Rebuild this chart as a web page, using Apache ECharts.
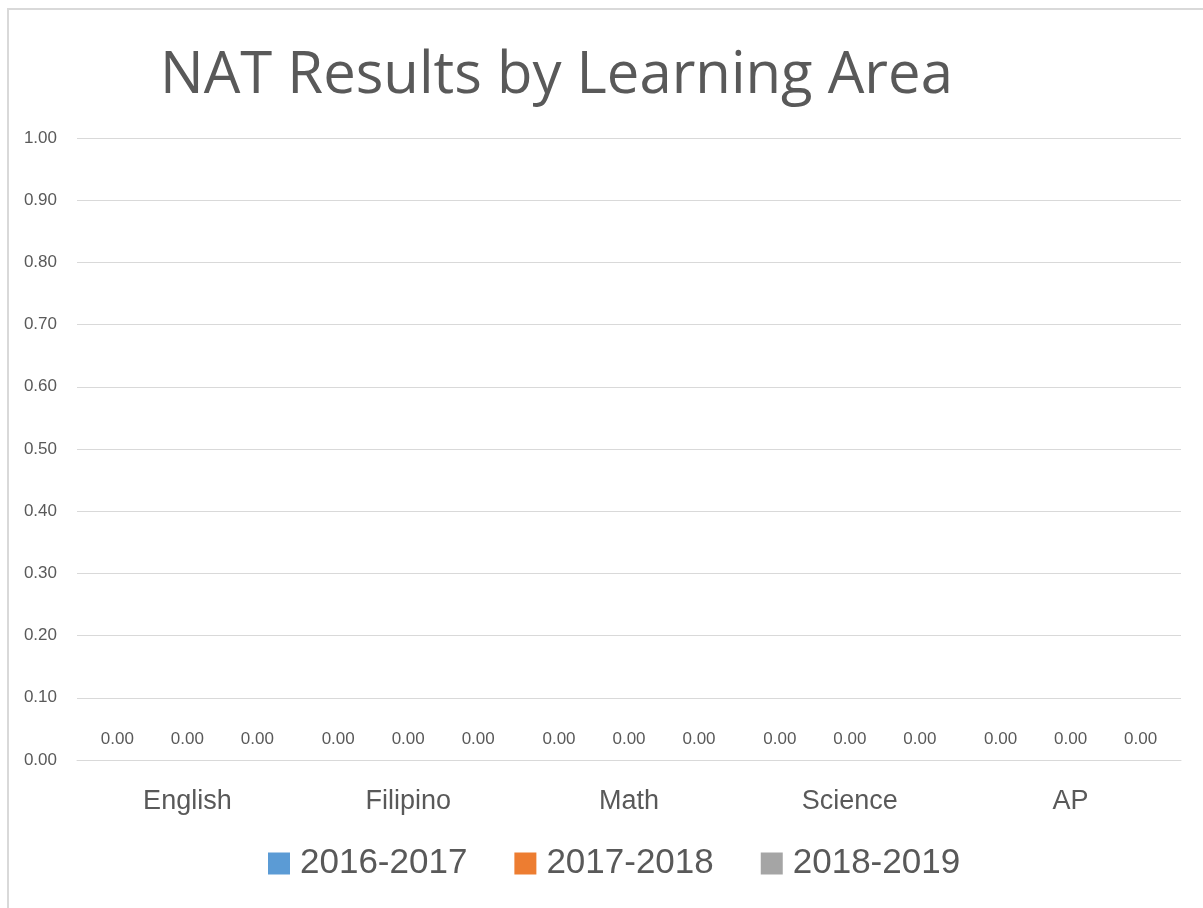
<!DOCTYPE html>
<html>
<head>
<meta charset="utf-8">
<script src="https://cdn.jsdelivr.net/npm/echarts@6/dist/echarts.min.js"></script>
<style>
html,body{margin:0;padding:0;background:#fff;}
#chart{width:1203px;height:908px;}
</style>
</head>
<body>
<div id="chart"></div>
<script>
const categories = ['English', 'Filipino', 'Math', 'Science', 'AP'];
const seriesNames = ['2016-2017', '2017-2018', '2018-2019'];
const values2016 = [0, 0, 0, 0, 0];
const values2017 = [0, 0, 0, 0, 0];
const values2018 = [0, 0, 0, 0, 0];
const colors = ['#5b9bd5', '#ed7d31', '#a5a5a5'];

const sans = "'Liberation Sans', Arial, sans-serif";
const textColor = '#595959';

const chart = echarts.init(document.getElementById('chart'));
const seriesData = [values2016, values2017, values2018];
chart.setOption({
  animation: false,
  backgroundColor: '#fff',
  color: colors,
  title: {
    text: 'NAT Results by Learning Area',
    left: 155,
    top: 42,
    textStyle: { fontFamily: "'Open Sans', 'Noto Sans', sans-serif", fontWeight: 'normal', fontSize: 58, color: textColor }
  },
  graphic: [{
    type: 'rect',
    shape: { x: 8, y: 9, width: 1400, height: 1100 },
    style: { fill: 'none', stroke: '#d9d9d9', lineWidth: 2 },
    silent: true
  }],
  legend: {
    data: seriesNames,
    bottom: 22,
    left: 263,
    icon: 'rect',
    itemWidth: 22,
    itemHeight: 22,
    itemGap: 47,
    textStyle: { fontFamily: sans, fontSize: 35, color: textColor, padding: [0, 0, 0, 5] }
  },
  grid: { left: 77, right: 22, top: 138, bottom: 148, containLabel: false },
  xAxis: {
    type: 'category',
    data: categories,
    axisLine: { show: true, lineStyle: { color: '#d9d9d9', width: 1 } },
    axisTick: { show: false },
    axisLabel: { fontFamily: sans, fontSize: 27, color: textColor, margin: 28 }
  },
  yAxis: {
    type: 'value',
    min: 0,
    max: 1,
    interval: 0.1,
    axisLine: { show: false },
    axisTick: { show: false },
    splitLine: { lineStyle: { color: '#d9d9d9', width: 1 } },
    axisLabel: {
      fontFamily: sans, fontSize: 17, color: textColor, margin: 20,
      formatter: v => v.toFixed(2)
    }
  },
  series: seriesNames.map((name, i) => ({
    name: name,
    type: 'bar',
    data: seriesData[i],
    barWidth: 50,
    barGap: '40%',
    label: {
      show: true,
      position: 'top',
      distance: 12,
      fontFamily: sans,
      fontSize: 17,
      color: textColor,
      formatter: p => p.value.toFixed(2)
    }
  }))
});
</script>
</body>
</html>
